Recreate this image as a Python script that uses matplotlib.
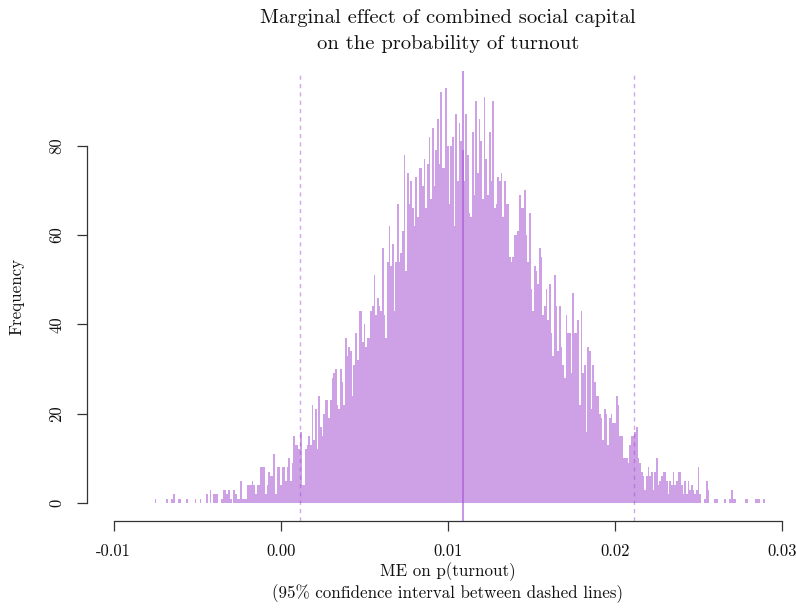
import numpy as np
import matplotlib
matplotlib.use("Agg")
import matplotlib.pyplot as plt

# histogram counts, bin width 0.0001, first bin centred at -0.0078
bin_width = 0.0001
first_center = -0.0078

left_tail = [0, 0, 0, 1, 0, 0, 0, 0, 0, 0,
             1, 0, 0, 1, 2, 0, 0, 1, 1, 0,
             0, 0, 1, 0, 0, 0, 0, 1, 0, 0,
             1, 0, 0, 0, 2, 0, 3, 0, 2, 2,
             2, 0, 0, 1, 3, 3, 2, 3, 1, 0,
             3, 2, 1, 1, 5, 1, 1, 1, 4, 4,
             4, 5, 4, 2, 4, 4, 8, 8, 8, 2,
             4, 7, 6, 6, 11, 2, 8, 8]
rise = [4, 8, 8, 5, 8, 10, 5, 9, 15, 13,
        13, 12, 16, 4, 4, 12, 13, 15, 13, 22,
        14, 21, 12, 24, 17, 15, 20, 23, 23, 19,
        23, 28, 29, 30, 22, 21, 30, 27, 22, 37,
        33, 35, 34, 24, 31, 38, 32, 43, 43, 36,
        40, 35, 37, 37]
peak_left = [43, 44, 51, 42, 46, 44, 43, 57, 42, 37,
             54, 62, 53, 58, 43, 54, 67, 54, 56, 61,
             78, 52, 74, 67, 72, 66, 62, 73, 64, 75,
             75, 71, 77, 66, 76, 82, 68, 84, 71, 79,
             86, 76, 92, 75, 75, 93, 80, 67, 80, 82,
             62, 87, 72, 85, 81, 79, 72, 87, 78, 65]
peak_right = [64, 83, 69, 90, 74, 86, 81, 68, 91, 77,
              69, 83, 72, 90, 66, 67, 73, 72, 74, 64,
              72, 67, 67, 55, 54, 55, 60, 60, 61, 69,
              66, 66, 70, 60, 54, 65, 48, 43, 53, 52,
              49, 57, 55, 42, 44, 48, 41, 49]
fall = [38, 33, 51, 44, 34, 44, 35, 31, 28, 42,
        38, 38, 29, 47, 38, 38, 41, 22, 43, 29,
        31, 16, 35, 34, 21, 31, 27, 24, 24, 20,
        19, 14, 21, 20, 13, 19, 20, 18, 18, 24,
        22, 15, 15, 10, 10, 10, 9, 13, 15, 15,
        16, 17, 10, 9, 7, 6]
right_tail = [3, 6, 8, 6, 7, 3, 7, 10, 4, 5,
              6, 7, 7, 5, 2, 5, 4, 7, 4, 5,
              7, 7, 4, 2, 5, 2, 5, 3, 4, 3,
              2, 3, 8, 2, 0, 0, 1, 5, 3, 0,
              0, 0, 1, 1, 0, 0, 0, 0, 1, 0,
              0, 1, 3, 1, 1, 0, 0, 0, 0, 0,
              1, 1, 0, 0, 0, 0, 1, 1, 1, 0,
              0, 1]

counts = np.array(left_tail + rise + peak_left + peak_right + fall + right_tail)
centers = first_center + bin_width * np.arange(len(counts))

median_me = 0.01089
ci_low = 0.00115
ci_high = 0.02113

x_ticks = [-0.01, 0.0, 0.01, 0.02, 0.03]
x_labels = ["-0.01", "0.00", "0.01", "0.02", "0.03"]
y_ticks = [0, 20, 40, 60, 80]

plt.rcParams['font.family'] = ['cmr10', 'DejaVu Serif']
plt.rcParams['axes.unicode_minus'] = False

W, H = 796, 608
fig = plt.figure(figsize=(W / 100, H / 100), dpi=100)

# plot region in pixels (R style: axes drawn at region edge)
left_px, right_px, top_px, bottom_px = 87.3, 796, 71, 520.5
ax = fig.add_axes([left_px / W, (H - bottom_px) / H,
                   (right_px - left_px) / W, (bottom_px - top_px) / H])

px_per_x = 16710.0
x0_px = 280.8
ax.set_xlim((left_px - x0_px) / px_per_x, (right_px - x0_px) / px_per_x)
px_per_y = 4.466
ax.set_ylim(-(bottom_px - 503) / px_per_y, (503 - top_px) / px_per_y)

nz = counts > 0
ax.bar(centers[nz], counts[nz], width=bin_width, color='#CEA1E6',
       edgecolor='none', linewidth=0, zorder=2)

ax.axvline(median_me, color='#A24FD6', alpha=0.7, lw=1.2, zorder=3)
for v in (ci_low, ci_high):
    ax.axvline(v, color='#A24FD6', alpha=0.5, lw=1.0,
               linestyle=(0, (3, 3)), zorder=3)

for s in ('top', 'right'):
    ax.spines[s].set_visible(False)
ax.spines['bottom'].set_bounds(-0.01, 0.03)
ax.spines['left'].set_bounds(0, 80)
for s in ('bottom', 'left'):
    ax.spines[s].set_color('#333333')
    ax.spines[s].set_linewidth(0.9)

ax.set_xticks(x_ticks)
ax.set_xticklabels(x_labels)
ax.set_yticks(y_ticks)
ax.set_yticklabels([str(t) for t in y_ticks], rotation=90, va='center')
ax.tick_params(axis='both', direction='out', length=7.5, width=0.9,
               color='#333333', labelsize=12, labelcolor='#111111', pad=9)
ax.patch.set_visible(False)

cx = (87.3 + 808.7) / 2 / W
fig.text(cx, 1 - 18 / H, "Marginal effect of combined social capital",
         ha='center', va='center', fontsize=14.8, color='#111111')
fig.text(cx, 1 - 44 / H, "on the probability of turnout",
         ha='center', va='center', fontsize=14.8, color='#111111')
fig.text(cx, 1 - 572 / H, "ME on p(turnout)",
         ha='center', va='center', fontsize=12.2, color='#111111')
fig.text(cx, 1 - 594 / H, "(95% confidence interval between dashed lines)",
         ha='center', va='center', fontsize=12.2, color='#111111')
fig.text(17 / W, 1 - 296 / H, "Frequency", rotation=90,
         ha='center', va='center', fontsize=12.2, color='#111111')

fig.savefig("out.png", dpi=100)
